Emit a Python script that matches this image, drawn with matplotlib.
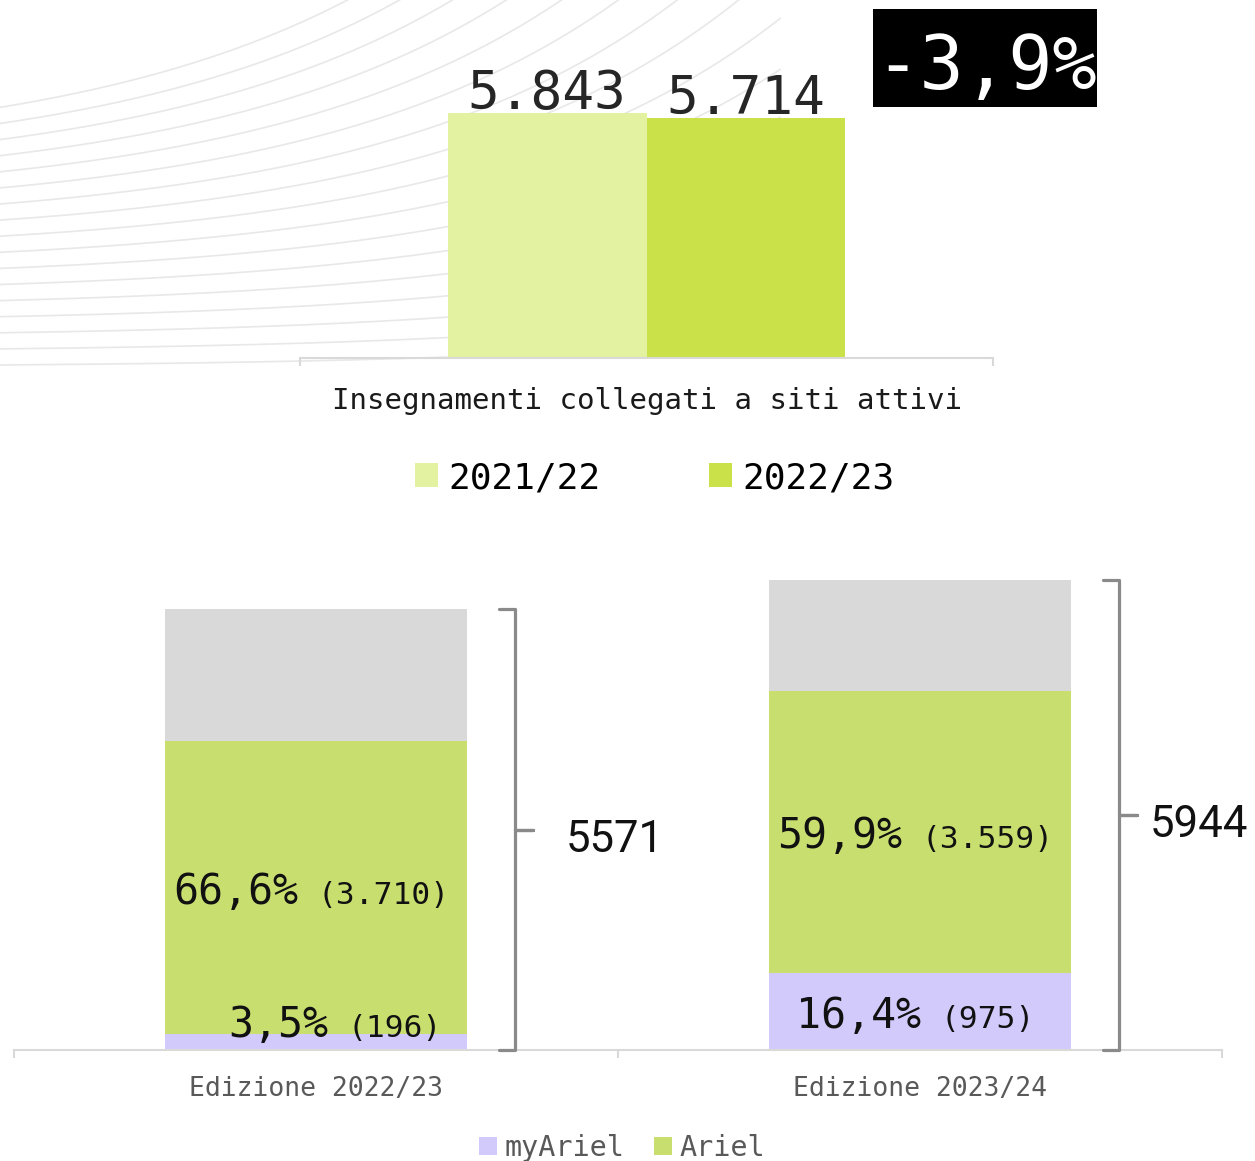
import numpy as np
import matplotlib
matplotlib.use("Agg")
import matplotlib.pyplot as plt
from matplotlib.patches import Rectangle
from matplotlib.offsetbox import TextArea, HPacker, AnnotationBbox

plt.rcParams['font.family'] = ['DejaVu Sans Mono']

# ---------------- data ----------------
top_category = ["Insegnamenti collegati a siti attivi"]
top_series = ["2021/22", "2022/23"]
top_values = [5843, 5714]
top_change_label = "-3,9%"

editions = ["Edizione 2022/23", "Edizione 2023/24"]
totals = [5571, 5944]
myariel = [196, 975]
ariel = [3710, 3559]
myariel_pct = ["3,5%", "16,4%"]
ariel_pct = ["66,6%", "59,9%"]
series_names = ["myAriel", "Ariel"]

# ---------------- style ----------------
top_colors = ["#e3f2a0", "#cbe14a"]
c_my = "#d3cafc"
c_ar = "#c8df70"
c_rest = "#d9d9d9"
axis_col = "#d9d9d9"
total_offsets = [23, 9]   # points between bracket nub and total label

def it(v):
    return f"{v:,}".replace(",", ".")

W, H = 1255, 1161
fig = plt.figure(figsize=(W / 100, H / 100), dpi=100)

# ---------------- decorative background waves ----------------
bg = fig.add_axes([0, 0, 1, 1], zorder=0)
bg.set_xlim(0, W)
bg.set_ylim(H, 0)
bg.axis("off")
xx = np.linspace(0, 780, 400)
tt = xx / 450
gg = (np.exp(1.5 * tt) - 1) / (np.exp(1.5) - 1)
for j in range(17):
    y0 = 365 - 16.1 * j
    d = 8 + 3 * j + 0.45 * j ** 2
    bg.plot(xx, y0 - d * gg, color="#e8e8e8", lw=1.2)

# ---------------- top chart ----------------
ax1 = fig.add_axes([300 / W, 1 - 358 / H, 693 / W, 344 / H], zorder=1)
ax1.patch.set_alpha(0)
ax1.set_xlim(-1, 1)
ax1.set_ylim(0, 8204)
bw = 0.573
bars_top = []
for i, (name, v) in enumerate(zip(top_series, top_values)):
    b = ax1.bar((i - 0.5) * bw, v, bw, color=top_colors[i], label=name, zorder=2)
    ax1.bar_label(b, labels=[it(v)], padding=-5, fontsize=38, color="#262626")
    bars_top.append(b)
for s in ["left", "right", "top"]:
    ax1.spines[s].set_visible(False)
ax1.spines["bottom"].set_color(axis_col)
ax1.spines["bottom"].set_linewidth(1.5)
ax1.set_yticks([])
ax1.set_xticks([0], top_category)
ax1.set_xticks([-1, 1], minor=True)
ax1.tick_params(axis="x", which="major", length=0, pad=21, labelsize=21, labelcolor="#1a1a1a")
ax1.tick_params(axis="x", which="minor", length=6, width=1.5, color=axis_col)
ax1.legend(handles=bars_top, loc="center", bbox_to_anchor=(655 / W, 1 - 478 / H),
           bbox_transform=fig.transFigure, ncol=2, frameon=False, fontsize=26,
           handlelength=0.64, handleheight=0.64, handletextpad=0.28, columnspacing=3.0)

# change badge
fig.patches.append(Rectangle((873 / W, 1 - 107 / H), 224 / W, 98 / H,
                             transform=fig.transFigure, facecolor="black", edgecolor="none"))
fig.text(986 / W, 1 - 89 / H, top_change_label, ha="center", va="baseline",
         fontsize=53, color="white")

# ---------------- bottom chart ----------------
ax2 = fig.add_axes([14 / W, 1 - 1050 / H, 1208 / W, 490 / H], zorder=1)
ax2.patch.set_alpha(0)
ax2.set_xlim(-0.5, 1.5)
ax2.set_ylim(0, 6193)
xpos = np.arange(len(editions))
rest = [t - m - a for t, m, a in zip(totals, myariel, ariel)]
base2 = np.add(myariel, ariel)
h_my = ax2.bar(xpos, myariel, 0.5, color=c_my, label=series_names[0])
h_ar = ax2.bar(xpos, ariel, 0.5, bottom=myariel, color=c_ar, label=series_names[1])
ax2.bar(xpos, rest, 0.5, bottom=base2, color=c_rest)

for s in ["left", "right", "top"]:
    ax2.spines[s].set_visible(False)
ax2.spines["bottom"].set_color(axis_col)
ax2.spines["bottom"].set_linewidth(1.5)
ax2.set_yticks([])
ax2.set_xticks(xpos, editions)
ax2.set_xticks([-0.5, 0.5, 1.5], minor=True)
ax2.tick_params(axis="x", which="major", length=0, pad=19, labelsize=19, labelcolor="#595959")
ax2.tick_params(axis="x", which="minor", length=6, width=1.5, color=axis_col)


def seg_label(x, y, big, small, bottom=False):
    ta1 = TextArea(big, textprops=dict(fontsize=30, color="#111111"))
    ta2 = TextArea(small, textprops=dict(fontsize=22.5, color="#111111"))
    pack = HPacker(children=[ta1, ta2], align="baseline", pad=0, sep=14)
    if bottom:
        ab = AnnotationBbox(pack, (x, y), xybox=(14, 3), xycoords="data",
                            boxcoords="offset points", frameon=False,
                            box_alignment=(0.5, 0.0), zorder=5)
    else:
        ab = AnnotationBbox(pack, (x, y), xycoords="data", xybox=(-3, -3),
                            boxcoords="offset points", frameon=False,
                            box_alignment=(0.5, 0.5), zorder=5)
    ax2.add_artist(ab)


for i in range(len(editions)):
    seg_label(xpos[i], myariel[i] + ariel[i] / 2, ariel_pct[i], f"({it(ariel[i])})")
    small = myariel[i] < 500
    seg_label(xpos[i], 0 if small else myariel[i] / 2, myariel_pct[i],
              f"({it(myariel[i])})", bottom=small)

# brackets with totals
gap, hook, nub = 0.08, 0.027, 0.03
for i, tot in enumerate(totals):
    xv = xpos[i] + 0.25 + gap
    px = [xv - hook, xv, xv, xv + nub, xv, xv, xv - hook]
    py = [tot, tot, tot / 2, tot / 2, tot / 2, 0, 0]
    ax2.plot(px, py, color="#8a8a8a", lw=2.3, solid_joinstyle="round",
             solid_capstyle="round", clip_on=False, zorder=4)
    ax2.annotate(str(tot), (xv + nub, tot / 2), xytext=(total_offsets[i], -16),
                 textcoords="offset points", fontsize=31.5, family="Roboto",
                 va="baseline", ha="left", color="#111111", annotation_clip=False)

ax2.legend(handles=[h_my, h_ar], loc="center", bbox_to_anchor=(622 / W, 1 - 1148 / H),
           bbox_transform=fig.transFigure, ncol=2, frameon=False, fontsize=20.5,
           labelcolor="#595959", handlelength=0.63, handleheight=0.63,
           handletextpad=0.25, columnspacing=1.05)

fig.savefig("out.png", dpi=100)
